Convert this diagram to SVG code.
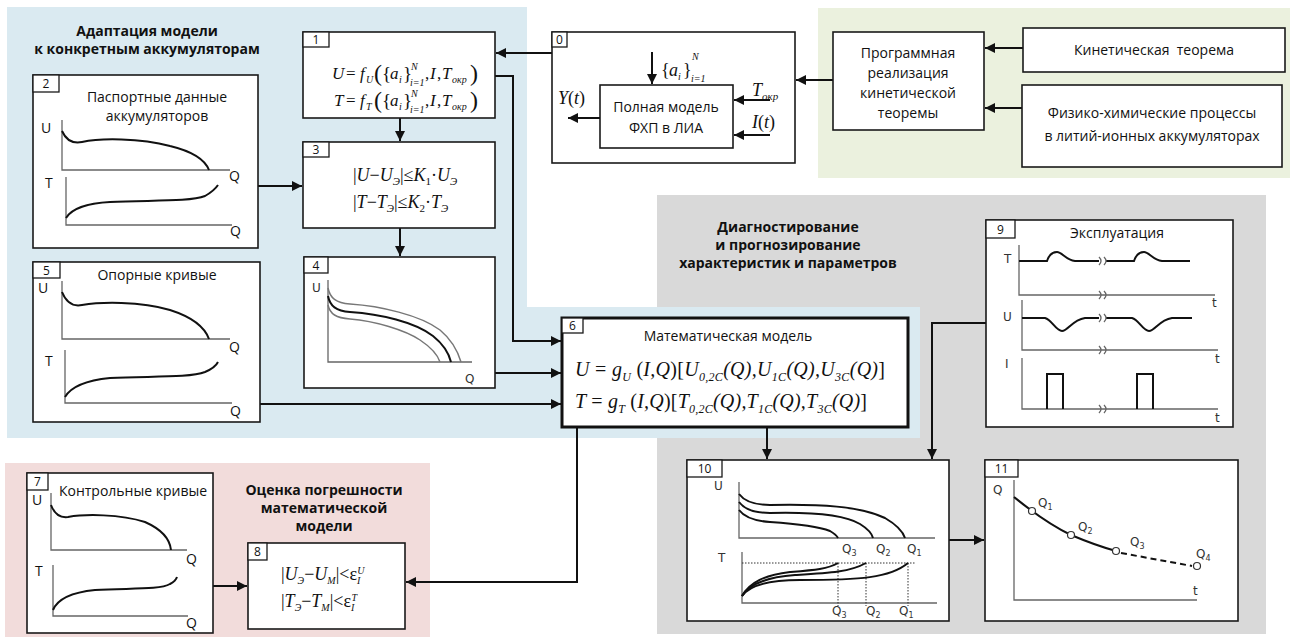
<svg xmlns="http://www.w3.org/2000/svg" width="1297" height="637" viewBox="0 0 1297 637">
<defs>
<marker id="ah" markerUnits="userSpaceOnUse" markerWidth="11" markerHeight="10" refX="10" refY="5" orient="auto">
<path d="M0,0 L10,5 L0,10 z" fill="#111"/>
</marker>
<style>
.box{fill:#fff;stroke:#1a1a1a;stroke-width:1.6}
.tab{fill:#fff;stroke:#1a1a1a;stroke-width:1.3}
.tabt{font-family:"Open Sans",sans-serif;font-size:12px;text-anchor:middle;fill:#111}
.t{font-family:"Open Sans",sans-serif;font-size:14px;fill:#111}
.c{text-anchor:middle}
.title{font-family:"Open Sans",sans-serif;font-weight:bold;font-size:14px;text-anchor:middle;fill:#111}
.ax{stroke:#666;stroke-width:1.3;fill:none}
.cv{stroke:#111;stroke-width:2;fill:none}
.cg{stroke:#777;stroke-width:1.5;fill:none}
.conn{stroke:#111;stroke-width:2;fill:none}
.arr{marker-end:url(#ah)}
.mf{font-family:"Liberation Serif",serif;font-style:italic;fill:#111}
.up{font-style:normal}
.lbl{font-family:"DejaVu Sans",sans-serif;font-size:12px;fill:#333}
.lb{font-family:"Open Sans",sans-serif;font-size:14px;fill:#111}
.dot{stroke:#333;stroke-width:1;stroke-dasharray:1.5,1.5;fill:none}
</style>
</defs>
<!-- backgrounds -->
<g id="regions">
<path d="M7,7 H527 V307 H920 V438 H7 Z" fill="#daeaf1"/>
<rect x="818" y="8" width="472" height="170" fill="#ebf1de"/>
<rect x="657" y="195" width="609" height="439" fill="#d9d9d9"/>
<path d="M657,307 H920 V438 H657 Z" fill="#daeaf1"/>
<rect x="5" y="463" width="425" height="174" fill="#f2dcdb"/>
<text class="title" x="147" y="36">Адаптация модели</text>
<text class="title" x="147" y="54">к конкретным аккумуляторам</text>
<text class="title" x="788" y="232">Диагностирование</text>
<text class="title" x="788" y="250">и прогнозирование</text>
<text class="title" x="788" y="268">характеристик и параметров</text>
<text class="title" x="324" y="495">Оценка погрешности</text>
<text class="title" x="324" y="513">математической</text>
<text class="title" x="324" y="531">модели</text>
</g>

<!-- connectors -->
<g id="connectors">
<path class="conn arr" d="M552,53 H496"/>
<path class="conn arr" d="M400,118 V141"/>
<path class="conn arr" d="M400,228 V256"/>
<path class="conn arr" d="M258,186 H302"/>
<path class="conn arr" d="M495,76 H513 V341 H561"/>
<path class="conn arr" d="M495,373 H561"/>
<path class="conn arr" d="M260,404 H561"/>
<path class="conn arr" d="M833,80 H796"/>
<path class="conn arr" d="M1023,48 H985"/>
<path class="conn arr" d="M1022,108 H985"/>
<path class="conn arr" d="M767,427 V459"/>
<path class="conn arr" d="M986,323 H932 V459"/>
<path class="conn arr" d="M577,427 V582 H406"/>
<path class="conn arr" d="M213,586 H247"/>
<path class="conn arr" d="M949,540 H984"/>
</g>

<!-- node 0 -->
<g id="node0">
<rect class="box" x="552" y="32" width="243" height="131"/>
<rect class="tab" x="552" y="32" width="15" height="15"/>
<text class="tabt" x="559.5" y="44">0</text>
<rect class="box" x="600" y="85" width="133" height="63"/>
<text class="t c" x="666" y="112">Полная модель</text>
<text class="t c" x="666" y="133">ФХП в ЛИА</text>
<path class="conn arr" d="M652,52 V84"/>
<path class="conn arr" d="M600,118 H568"/>
<path class="conn arr" d="M770,100 H734"/>
<path class="conn arr" d="M770,135 H734"/>
<text class="mf" font-size="18"><tspan class="up" x="661" y="76">{</tspan><tspan x="669" y="76">a</tspan><tspan x="678" y="80" font-size="10">i</tspan><tspan class="up" x="683" y="76">}</tspan><tspan x="692" y="60" font-size="10">N</tspan><tspan x="691" y="82" font-size="10">i=1</tspan></text>
<text class="mf" font-size="18" x="558" y="104">Y<tspan class="up">(</tspan>t<tspan class="up">)</tspan></text>
<text class="mf" font-size="18" x="752" y="96">T<tspan font-size="11" dy="4">окр</tspan></text>
<text class="mf" font-size="18" x="752" y="128">I<tspan class="up">(</tspan>t<tspan class="up">)</tspan></text>
</g>

<!-- green nodes -->
<g id="nodeProg">
<rect class="box" x="833" y="32" width="151" height="98"/>
<text class="t c" x="908" y="58" font-size="15">Программная</text>
<text class="t c" x="908" y="78" font-size="15">реализация</text>
<text class="t c" x="908" y="98" font-size="15">кинетической</text>
<text class="t c" x="908" y="118" font-size="15">теоремы</text>
</g>
<g id="nodeKin">
<rect class="box" x="1023" y="28" width="262" height="44"/>
<text class="t c" x="1154" y="55" font-size="15" xml:space="preserve">Кинетическая  теорема</text>
</g>
<g id="nodeFiz">
<rect class="box" x="1022" y="85" width="260" height="82"/>
<text class="t c" x="1152" y="118" font-size="15">Физико-химические процессы</text>
<text class="t c" x="1152" y="141" font-size="15">в литий-ионных аккумуляторах</text>
</g>

<!-- node 1 -->
<g id="node1">
<rect class="box" x="303" y="32" width="192" height="86"/>
<rect class="tab" x="303" y="32" width="26" height="15"/>
<text class="tabt" x="316" y="44">1</text>
<text class="mf" font-size="17"><tspan x="332" y="79">U</tspan><tspan class="up" x="346" y="79">=</tspan><tspan x="360" y="79">f</tspan><tspan x="366" y="83" font-size="10">U</tspan><tspan class="up" x="374" y="81" font-size="24">(</tspan><tspan class="up" x="382" y="80" font-size="19">{</tspan><tspan x="390" y="79">a</tspan><tspan x="399" y="83" font-size="10">i</tspan><tspan class="up" x="403" y="80" font-size="19">}</tspan><tspan x="411" y="70" font-size="10">N</tspan><tspan x="410" y="86" font-size="10">i=1</tspan><tspan class="up" x="425" y="79">,</tspan><tspan x="430" y="79">I</tspan><tspan class="up" x="437" y="79">,</tspan><tspan x="442" y="79">T</tspan><tspan x="452" y="83" font-size="10">окр</tspan><tspan class="up" x="470" y="81" font-size="24">)</tspan></text>
<text class="mf" font-size="17"><tspan x="334" y="106">T</tspan><tspan class="up" x="346" y="106">=</tspan><tspan x="360" y="106">f</tspan><tspan x="366" y="110" font-size="10">T</tspan><tspan class="up" x="374" y="108" font-size="24">(</tspan><tspan class="up" x="382" y="107" font-size="19">{</tspan><tspan x="390" y="106">a</tspan><tspan x="399" y="110" font-size="10">i</tspan><tspan class="up" x="403" y="107" font-size="19">}</tspan><tspan x="411" y="97" font-size="10">N</tspan><tspan x="410" y="113" font-size="10">i=1</tspan><tspan class="up" x="425" y="106">,</tspan><tspan x="430" y="106">I</tspan><tspan class="up" x="437" y="106">,</tspan><tspan x="442" y="106">T</tspan><tspan x="452" y="110" font-size="10">окр</tspan><tspan class="up" x="470" y="108" font-size="24">)</tspan></text>
</g>

<!-- node 3 -->
<g id="node3">
<rect class="box" x="303" y="142" width="192" height="86"/>
<rect class="tab" x="303" y="142" width="26" height="15"/>
<text class="tabt" x="316" y="154">3</text>
<text class="mf" font-size="18" x="353" y="181"><tspan class="up">|</tspan>U<tspan class="up">−</tspan>U<tspan dy="4" font-size="11">Э</tspan><tspan class="up" dy="-4">|≤</tspan>K<tspan dy="4" font-size="11" class="up">1</tspan><tspan class="up" dy="-4">·</tspan>U<tspan dy="4" font-size="11">Э</tspan></text>
<text class="mf" font-size="18" x="353" y="208"><tspan class="up">|</tspan>T<tspan class="up">−</tspan>T<tspan dy="4" font-size="11">Э</tspan><tspan class="up" dy="-4">|≤</tspan>K<tspan dy="4" font-size="11" class="up">2</tspan><tspan class="up" dy="-4">·</tspan>T<tspan dy="4" font-size="11">Э</tspan></text>
</g>

<!-- node 2 -->
<g id="node2">
<rect class="box" x="33" y="75" width="225" height="173"/>
<rect class="tab" x="33" y="75" width="26" height="17"/>
<text class="tabt" x="46" y="88">2</text>
<text class="t c" x="157" y="102">Паспортные данные</text>
<text class="t c" x="157" y="121">аккумуляторов</text>
<text class="lb" x="41" y="133">U</text>
<path class="ax" d="M62,120 V170 H230"/>
<path class="cv" d="M62,131 C66,140 72,144 82,142 C100,138 140,138 170,146 C195,152 205,160 209,170"/>
<text class="lb" x="229" y="181">Q</text>
<text class="lb" x="45" y="188">T</text>
<path class="ax" d="M66,177 V225 H232"/>
<path class="cv" d="M66,218 C72,208 90,203 110,202 C150,200 190,202 205,196 C212,192 216,188 218,185"/>
<text class="lb" x="230" y="236">Q</text>
</g>

<!-- node 5 -->
<g id="node5">
<rect class="box" x="33" y="262" width="227" height="160"/>
<rect class="tab" x="33" y="262" width="27" height="16"/>
<text class="tabt" x="46.5" y="275">5</text>
<text class="t c" x="157" y="280">Опорные кривые</text>
<text class="lb" x="38" y="293">U</text>
<path class="ax" d="M62,281 V339 H230"/>
<path class="cv" d="M62,292 C66,302 72,307 82,305 C100,302 140,301 170,310 C195,318 205,328 209,339"/>
<text class="lb" x="229" y="352">Q</text>
<text class="lb" x="45" y="366">T</text>
<path class="ax" d="M65,350 V403 H232"/>
<path class="cv" d="M65,397 C72,385 90,380 110,378 C150,376 190,378 205,372 C212,369 216,366 218,362"/>
<text class="lb" x="230" y="416">Q</text>
</g>

<!-- node 4 -->
<g id="node4">
<rect class="box" x="304" y="257" width="191" height="131"/>
<rect class="tab" x="304" y="257" width="24" height="16"/>
<text class="tabt" x="316" y="270">4</text>
<text class="lbl" x="312" y="292">U</text>
<path class="ax" d="M328,280 V362 H472"/>
<path class="cg" d="M328,288 C330,298 336,303 350,304 C380,306 420,315 440,330 C452,340 458,352 461,362"/>
<path class="cv" d="M328,296 C330,306 336,311 350,312 C380,314 415,322 433,336 C443,344 449,354 451,362"/>
<path class="cg" d="M328,305 C330,314 336,318 350,319 C375,321 405,330 420,340 C432,348 438,356 440,362"/>
<text class="lbl" x="465" y="383">Q</text>
</g>

<!-- node 6 -->
<g id="node6">
<rect x="562" y="318" width="346" height="109" fill="#fff" stroke="#111" stroke-width="3"/>
<rect class="tab" x="562" y="318" width="21" height="15"/>
<text class="tabt" x="572.5" y="330">6</text>
<text class="t c" x="728" y="341">Математическая модель</text>
<text class="mf" font-size="20" x="575" y="376" textLength="310" lengthAdjust="spacing">U <tspan class="up">=</tspan> g<tspan dy="5" font-size="12">U</tspan><tspan dy="-5" class="up"> (</tspan>I,Q<tspan class="up">)[</tspan>U<tspan dy="5" font-size="12">0,2C</tspan><tspan dy="-5">(Q),U</tspan><tspan dy="5" font-size="12">1C</tspan><tspan dy="-5">(Q),U</tspan><tspan dy="5" font-size="12">3C</tspan><tspan dy="-5">(Q)</tspan><tspan class="up">]</tspan></text>
<text class="mf" font-size="20" x="575" y="408" textLength="292" lengthAdjust="spacing">T <tspan class="up">=</tspan> g<tspan dy="5" font-size="12">T</tspan><tspan dy="-5" class="up"> (</tspan>I,Q<tspan class="up">)[</tspan>T<tspan dy="5" font-size="12">0,2C</tspan><tspan dy="-5">(Q),T</tspan><tspan dy="5" font-size="12">1C</tspan><tspan dy="-5">(Q),T</tspan><tspan dy="5" font-size="12">3C</tspan><tspan dy="-5">(Q)</tspan><tspan class="up">]</tspan></text>
</g>

<!-- node 7 -->
<g id="node7">
<rect class="box" x="27" y="473" width="186" height="160"/>
<rect class="tab" x="27" y="473" width="21" height="17"/>
<text class="tabt" x="37.5" y="486">7</text>
<text class="t c" x="133" y="496">Контрольные кривые</text>
<text class="lb" x="32" y="505">U</text>
<path class="ax" d="M51,493 V550 H187"/>
<path class="cv" d="M51,505 C54,513 60,518 68,517 C85,514 120,514 145,522 C163,530 170,540 171,550"/>
<text class="lb" x="186" y="564">Q</text>
<text class="lb" x="35" y="576">T</text>
<path class="ax" d="M53,565 V616 H188"/>
<path class="cv" d="M53,610 C58,598 75,592 95,590 C130,588 160,590 170,584 C174,582 176,580 177,577"/>
<text class="lb" x="186" y="628">Q</text>
</g>

<!-- node 8 -->
<g id="node8">
<rect class="box" x="248" y="543" width="157" height="86"/>
<rect class="tab" x="248" y="543" width="19" height="17"/>
<text class="tabt" x="257.5" y="556">8</text>
<text class="mf" font-size="18" x="281" y="580"><tspan class="up">|</tspan>U<tspan dy="4" font-size="10">Э</tspan><tspan class="up" dy="-4">−</tspan>U<tspan dy="4" font-size="10">M</tspan><tspan class="up" dy="-4">|&lt;ε</tspan><tspan dy="4" font-size="10">I</tspan><tspan dy="-10" dx="-3" font-size="10">U</tspan></text>
<text class="mf" font-size="18" x="281" y="607"><tspan class="up">|</tspan>T<tspan dy="4" font-size="10">Э</tspan><tspan class="up" dy="-4">−</tspan>T<tspan dy="4" font-size="10">M</tspan><tspan class="up" dy="-4">|&lt;ε</tspan><tspan dy="4" font-size="10">I</tspan><tspan dy="-10" dx="-3" font-size="10">T</tspan></text>
</g>

<!-- node 9 -->
<g id="node9">
<rect class="box" x="986" y="220" width="247" height="207"/>
<rect class="tab" x="986" y="220" width="29" height="18"/>
<text class="tabt" x="1000.5" y="234">9</text>
<text class="t c" x="1117" y="238">Эксплуатация</text>
<text class="lbl" x="1004" y="263">T</text>
<path class="ax" d="M1019,245 V295 H1215"/>
<path class="cv" d="M1019,261 H1047 C1049,255 1052,252 1057,252 C1062,252 1066,260 1075,261 H1099 M1106,261 H1134 C1136,255 1139,252 1144,252 C1149,252 1153,260 1162,261 H1190"/>
<path class="ax" d="M1099,257 Q1103,261 1099,265 M1104,257 Q1108,261 1104,265 M1099,291 Q1103,295 1099,299 M1104,291 Q1108,295 1104,299"/>
<text class="lbl" x="1212" y="307">t</text>
<text class="lbl" x="1003" y="321">U</text>
<path class="ax" d="M1022,300 V350 H1218"/>
<path class="cv" d="M1022,318 H1045 C1052,320 1056,331 1062,331 C1068,331 1072,320 1085,318 H1099 M1106,318 H1132 C1139,320 1143,331 1149,331 C1155,331 1159,320 1172,318 H1192"/>
<path class="ax" d="M1099,314 Q1103,318 1099,322 M1104,314 Q1108,318 1104,322 M1099,346 Q1103,350 1099,354 M1104,346 Q1108,350 1104,354"/>
<text class="lbl" x="1215" y="363">t</text>
<text class="lbl" x="1005" y="368">I</text>
<path class="ax" d="M1022,358 V409 H1218"/>
<path class="cv" d="M1047,409 V374 H1063 V409 M1137,409 V374 H1153 V409" stroke-width="1.6"/>
<path class="ax" d="M1099,405 Q1103,409 1099,413 M1104,405 Q1108,409 1104,413"/>
<text class="lbl" x="1215" y="422">t</text>
</g>

<!-- node 10 -->
<g id="node10">
<rect class="box" x="687" y="460" width="262" height="161"/>
<rect class="tab" x="687" y="460" width="35" height="17"/>
<text class="tabt" x="704.5" y="473">10</text>
<text class="lbl" x="714" y="490">U</text>
<path class="ax" d="M739,482 V538 H935"/>
<path class="cv" d="M739,494 C745,502 755,505 770,505 C820,504 860,506 885,518 C897,525 903,532 905,538"/>
<path class="cv" d="M739,502 C745,510 755,513 770,513 C810,512 845,515 860,524 C868,529 872,534 873,538"/>
<path class="cv" d="M739,510 C745,518 755,521 770,522 C800,524 820,527 830,531 C835,534 837,536 838,538"/>
<text class="lbl" x="842" y="553">Q<tspan font-size="8" dy="3">3</tspan></text>
<text class="lbl" x="876" y="553">Q<tspan font-size="8" dy="3">2</tspan></text>
<text class="lbl" x="907" y="553">Q<tspan font-size="8" dy="3">1</tspan></text>
<text class="lbl" x="718" y="562">T</text>
<path class="ax" d="M742,552 V603 H937"/>
<path class="dot" d="M742,563 H915 M838,563 V606 M866,563 V606 M908,563 V606"/>
<path class="cv" d="M742,596 C750,585 770,580 800,580 C860,580 890,578 908,563"/>
<path class="cv" d="M742,596 C750,583 768,577 795,575 C830,573 850,572 866,563"/>
<path class="cv" d="M742,596 C750,582 765,575 790,572 C815,570 828,569 838,563"/>
<text class="lbl" x="832" y="615">Q<tspan font-size="8" dy="3">3</tspan></text>
<text class="lbl" x="866" y="615">Q<tspan font-size="8" dy="3">2</tspan></text>
<text class="lbl" x="899" y="615">Q<tspan font-size="8" dy="3">1</tspan></text>
</g>

<!-- node 11 -->
<g id="node11">
<rect class="box" x="985" y="460" width="253" height="161"/>
<rect class="tab" x="985" y="460" width="33" height="17"/>
<text class="tabt" x="1001.5" y="473">11</text>
<text class="lbl" x="993" y="494">Q</text>
<path class="ax" d="M1014,480 V600 H1197"/>
<path class="cv" d="M1014,497 C1030,510 1050,525 1071,535 C1090,543 1105,548 1116,551"/>
<path class="cv" d="M1121,553 L1192,566" stroke-dasharray="6,4"/>
<circle cx="1032" cy="511" r="3.5" fill="#fff" stroke="#333" stroke-width="1.2"/>
<circle cx="1071" cy="535" r="3.5" fill="#fff" stroke="#333" stroke-width="1.2"/>
<circle cx="1116" cy="551" r="3.5" fill="#fff" stroke="#333" stroke-width="1.2"/>
<circle cx="1197" cy="566" r="3.5" fill="#fff" stroke="#333" stroke-width="1.2"/>
<text class="lbl" x="1038" y="507">Q<tspan font-size="8" dy="3">1</tspan></text>
<text class="lbl" x="1078" y="531">Q<tspan font-size="8" dy="3">2</tspan></text>
<text class="lbl" x="1130" y="546">Q<tspan font-size="8" dy="3">3</tspan></text>
<text class="lbl" x="1196" y="558">Q<tspan font-size="8" dy="3">4</tspan></text>
<text class="lbl" x="1193" y="595">t</text>
</g>
</svg>
